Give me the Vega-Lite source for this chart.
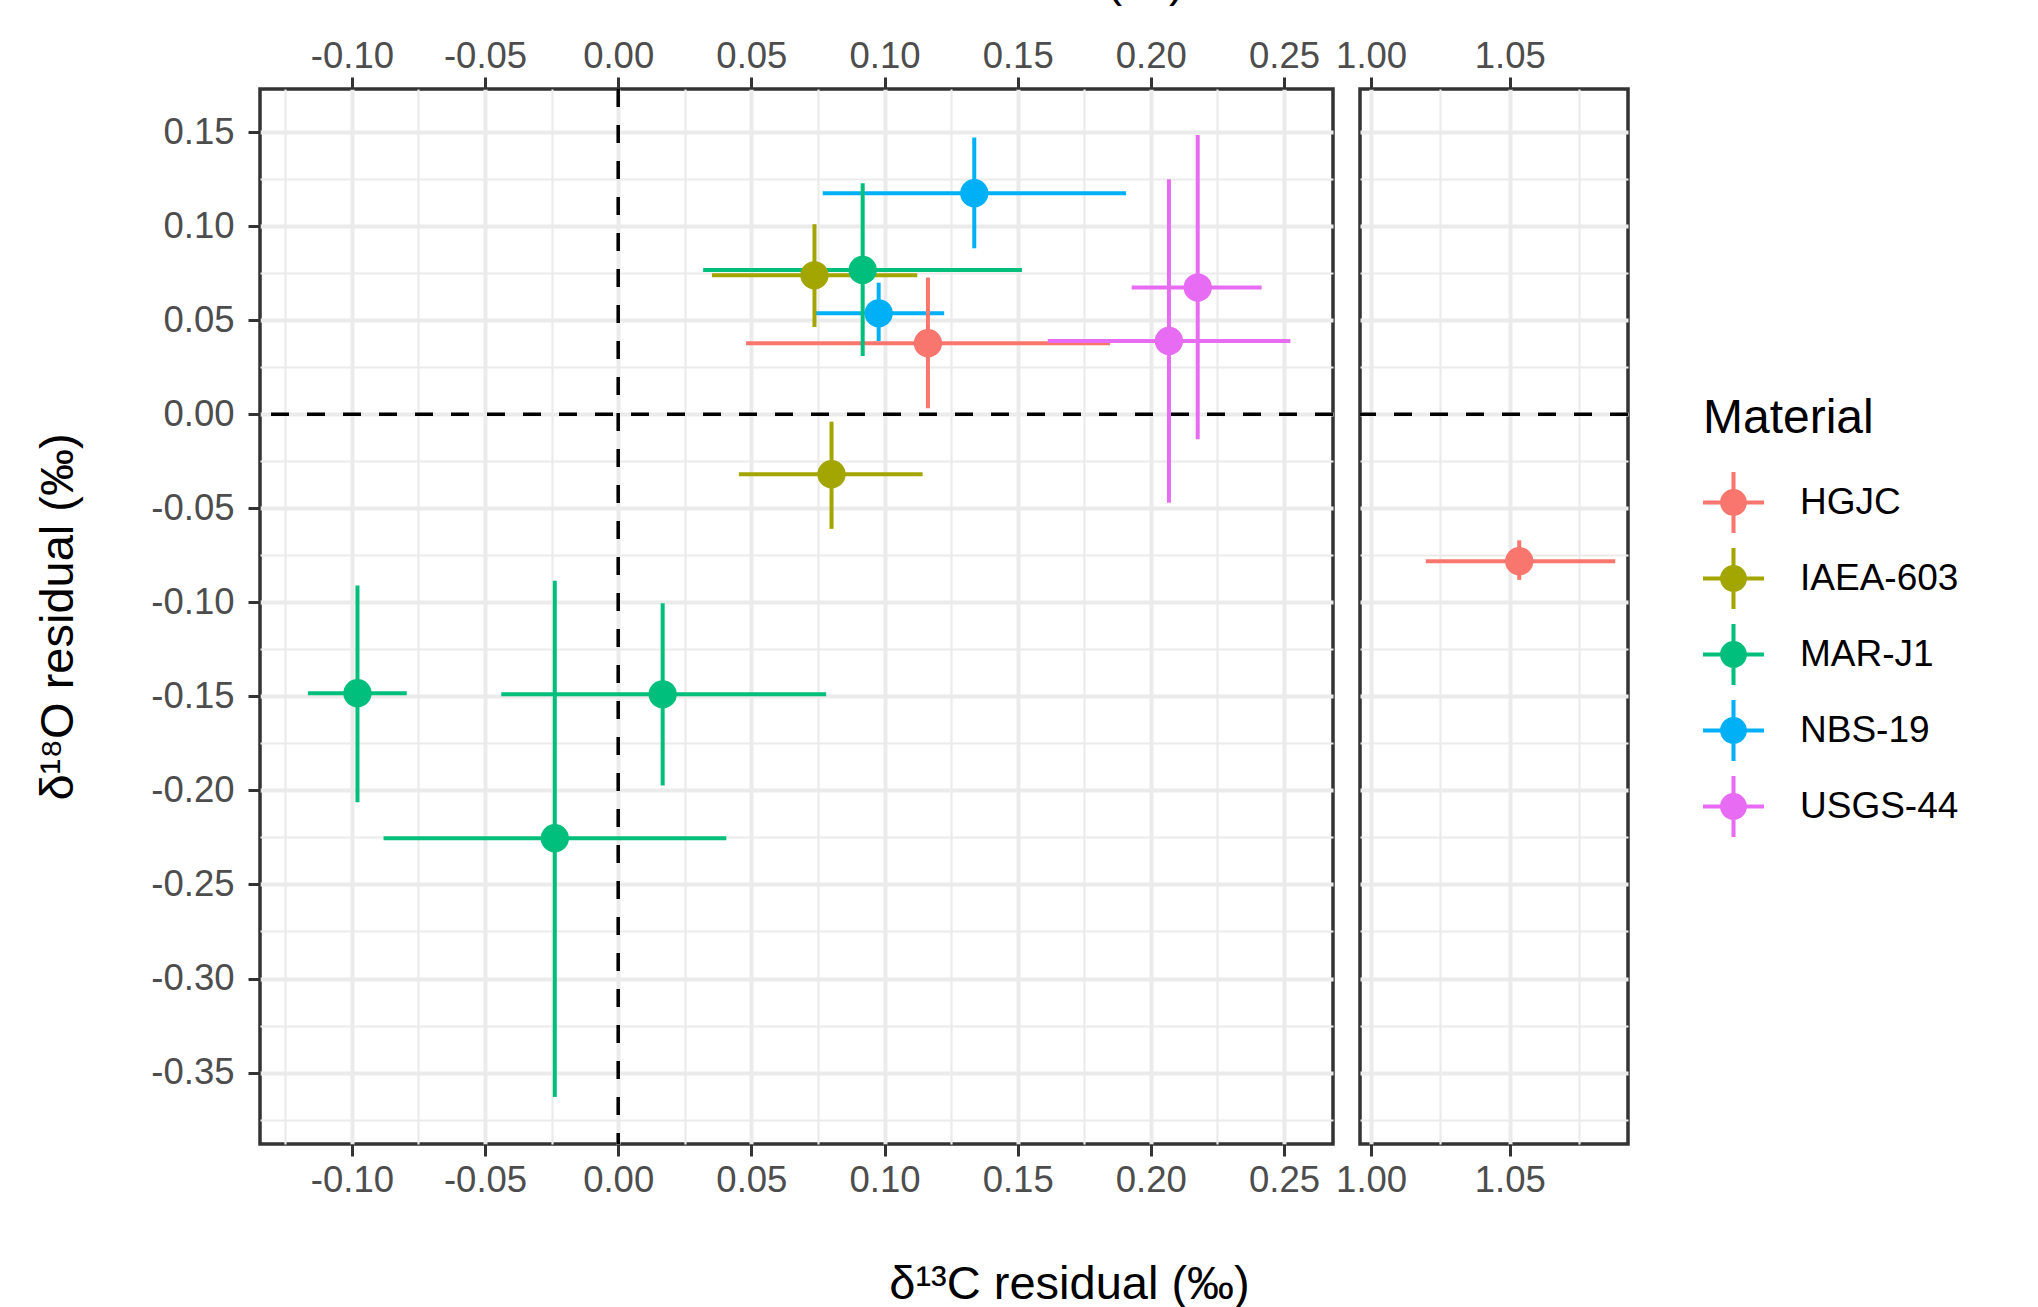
{
  "$schema": "https://vega.github.io/schema/vega-lite/v6.json",
  "background": "white",
  "padding": {"left": 32, "top": -45, "right": 60, "bottom": 0},
  "bounds": "flush",
  "spacing": 27,
  "datasets": {
    "resid": [
      {"material": "HGJC", "x": 0.1163, "y": 0.0378, "xmin": 0.048, "xmax": 0.1847, "ymin": 0.0032, "ymax": 0.0727},
      {"material": "HGJC", "x": 1.0534, "y": -0.0781, "xmin": 1.0197, "xmax": 1.088, "ymin": -0.088, "ymax": -0.067},
      {"material": "IAEA-603", "x": 0.0737, "y": 0.0739, "xmin": 0.0352, "xmax": 0.1123, "ymin": 0.0464, "ymax": 0.1011},
      {"material": "IAEA-603", "x": 0.0801, "y": -0.0318, "xmin": 0.0453, "xmax": 0.1143, "ymin": -0.0609, "ymax": -0.0039},
      {"material": "MAR-J1", "x": 0.0918, "y": 0.0768, "xmin": 0.0319, "xmax": 0.1516, "ymin": 0.031, "ymax": 0.1229},
      {"material": "MAR-J1", "x": -0.0979, "y": -0.1483, "xmin": -0.1165, "xmax": -0.0794, "ymin": -0.2063, "ymax": -0.091},
      {"material": "MAR-J1", "x": 0.0167, "y": -0.1489, "xmin": -0.0439, "xmax": 0.0781, "ymin": -0.1973, "ymax": -0.1004},
      {"material": "MAR-J1", "x": -0.0238, "y": -0.2254, "xmin": -0.0881, "xmax": 0.0406, "ymin": -0.363, "ymax": -0.0885},
      {"material": "NBS-19", "x": 0.1337, "y": 0.1176, "xmin": 0.0768, "xmax": 0.1907, "ymin": 0.0883, "ymax": 0.1472},
      {"material": "NBS-19", "x": 0.0978, "y": 0.0537, "xmin": 0.0732, "xmax": 0.1224, "ymin": 0.039, "ymax": 0.07},
      {"material": "USGS-44", "x": 0.2068, "y": 0.039, "xmin": 0.1613, "xmax": 0.2524, "ymin": -0.047, "ymax": 0.125},
      {"material": "USGS-44", "x": 0.2176, "y": 0.0674, "xmin": 0.1928, "xmax": 0.2416, "ymin": -0.0133, "ymax": 0.1486}
    ],
    "zero": [{"v": 0}]
  },
  "resolve": {"scale": {"x": "independent", "y": "shared", "color": "shared", "stroke": "shared"}},
  "hconcat": [
    {
      "width": 1073,
      "height": 1055,
      "resolve": {"axis": {"x": "independent", "y": "independent"}},
      "layer": [
        {
          "data": {"name": "resid"},
          "transform": [{"filter": "datum.x < 0.5"}],
          "mark": {"type": "rule", "strokeWidth": 4},
          "encoding": {
            "x": {"field": "xmin", "type": "quantitative", "scale": {"domain": [-0.1345, 0.2684], "nice": false, "zero": false},
              "axis": {"orient": "bottom", "values": [-0.125, -0.075, -0.025, 0.025, 0.075, 0.125, 0.175, 0.225], "grid": true, "gridWidth": 2.2, "labels": false, "ticks": false, "domain": false, "title": null}},
            "x2": {"field": "xmax"},
            "y": {"field": "y", "type": "quantitative", "scale": {"domain": [-0.388, 0.173], "nice": false, "zero": false},
              "axis": {"orient": "left", "values": [0.125, 0.075, 0.025, -0.025, -0.075, -0.125, -0.175, -0.225, -0.275, -0.325, -0.375], "grid": true, "gridWidth": 2.2, "labels": false, "ticks": false, "domain": false, "title": null}},
            "stroke": {"field": "material", "type": "nominal", "scale": {"domain": ["USGS-44", "NBS-19", "MAR-J1", "IAEA-603", "HGJC"], "range": ["#E76BF3", "#00B0F6", "#00BF7D", "#A3A500", "#F8766D"]}, "legend": null}
          }
        },
        {
          "data": {"name": "resid"},
          "transform": [{"filter": "datum.x < 0.5"}],
          "mark": {"type": "rule", "strokeWidth": 4},
          "encoding": {
            "x": {"field": "x", "type": "quantitative", "scale": {"domain": [-0.1345, 0.2684], "nice": false, "zero": false},
              "axis": {"orient": "top", "values": [-0.1, -0.05, 0, 0.05, 0.1, 0.15, 0.2, 0.25], "grid": false, "labelExpr": "replace(format(datum.value, '.2f'), '\u2212', '-')", "labelPadding": 2, "title": "δ¹³C residual (‰)", "titleX": 744, "titleY": -94, "titleAlign": "center", "titleBaseline": "alphabetic"}},
            "y": {"field": "ymin", "type": "quantitative", "scale": {"domain": [-0.388, 0.173], "nice": false, "zero": false},
              "axis": {"orient": "left", "values": [0.15, 0.1, 0.05, 0, -0.05, -0.1, -0.15, -0.2, -0.25, -0.3, -0.35], "grid": true, "gridWidth": 4, "labelExpr": "replace(format(datum.value, '.2f'), '\u2212', '-')", "labelPadding": 14, "title": "δ¹⁸O residual (‰)", "titleX": -188, "titleY": 527.5, "titleAngle": 270, "titleAlign": "center", "titleBaseline": "alphabetic"}},
            "y2": {"field": "ymax"},
            "stroke": {"field": "material", "type": "nominal", "scale": {"domain": ["USGS-44", "NBS-19", "MAR-J1", "IAEA-603", "HGJC"], "range": ["#E76BF3", "#00B0F6", "#00BF7D", "#A3A500", "#F8766D"]}, "legend": null}
          }
        },
        {
          "data": {"name": "resid"},
          "transform": [{"filter": "datum.x < 0.5"}],
          "mark": {"type": "point", "filled": true, "opacity": 1, "size": 800, "shape": "circle"},
          "encoding": {
            "x": {"field": "x", "type": "quantitative", "scale": {"domain": [-0.1345, 0.2684], "nice": false, "zero": false},
              "axis": {"orient": "bottom", "values": [-0.1, -0.05, 0, 0.05, 0.1, 0.15, 0.2, 0.25], "grid": true, "gridWidth": 4, "labelExpr": "replace(format(datum.value, '.2f'), '\u2212', '-')", "labelPadding": 6, "title": "δ¹³C residual (‰)", "titleX": 809, "titleY": 154, "titleAlign": "center", "titleBaseline": "alphabetic"}},
            "y": {"field": "y", "type": "quantitative", "scale": {"domain": [-0.388, 0.173], "nice": false, "zero": false}, "axis": null},
            "color": {"field": "material", "type": "nominal", "scale": {"domain": ["HGJC", "IAEA-603", "MAR-J1", "NBS-19", "USGS-44"], "range": ["#F8766D", "#A3A500", "#00BF7D", "#00B0F6", "#E76BF3"]}, "legend": {"title": "Material", "orient": "none", "legendX": 1443, "legendY": 306}}
          }
        },
        {
          "data": {"name": "zero"},
          "mark": {"type": "rule", "color": "black", "strokeWidth": 3.5, "strokeDash": [18, 18]},
          "encoding": {"x": {"field": "v", "type": "quantitative", "scale": {"domain": [-0.1345, 0.2684], "nice": false, "zero": false}, "axis": null}}
        },
        {
          "data": {"name": "zero"},
          "mark": {"type": "rule", "color": "black", "strokeWidth": 3.5, "strokeDash": [18, 18]},
          "encoding": {"y": {"field": "v", "type": "quantitative", "scale": {"domain": [-0.388, 0.173], "nice": false, "zero": false}, "axis": null}}
        }
      ]
    },
    {
      "width": 268,
      "height": 1055,
      "resolve": {"axis": {"x": "independent", "y": "independent"}},
      "layer": [
        {
          "data": {"name": "resid"},
          "transform": [{"filter": "datum.x > 0.5"}],
          "mark": {"type": "rule", "strokeWidth": 4},
          "encoding": {
            "x": {"field": "xmin", "type": "quantitative", "scale": {"domain": [0.996, 1.0926], "nice": false, "zero": false},
              "axis": {"orient": "bottom", "values": [1.025, 1.075], "grid": true, "gridWidth": 2.2, "labels": false, "ticks": false, "domain": false, "title": null}},
            "x2": {"field": "xmax"},
            "y": {"field": "y", "type": "quantitative", "scale": {"domain": [-0.388, 0.173], "nice": false, "zero": false},
              "axis": {"orient": "left", "values": [0.125, 0.075, 0.025, -0.025, -0.075, -0.125, -0.175, -0.225, -0.275, -0.325, -0.375], "grid": true, "gridWidth": 2.2, "labels": false, "ticks": false, "domain": false, "title": null}},
            "stroke": {"field": "material", "type": "nominal", "scale": {"domain": ["USGS-44", "NBS-19", "MAR-J1", "IAEA-603", "HGJC"], "range": ["#E76BF3", "#00B0F6", "#00BF7D", "#A3A500", "#F8766D"]}, "legend": null}
          }
        },
        {
          "data": {"name": "resid"},
          "transform": [{"filter": "datum.x > 0.5"}],
          "mark": {"type": "rule", "strokeWidth": 4},
          "encoding": {
            "x": {"field": "x", "type": "quantitative", "scale": {"domain": [0.996, 1.0926], "nice": false, "zero": false},
              "axis": {"orient": "top", "values": [1.0, 1.05], "grid": false, "labelExpr": "format(datum.value, '.2f')", "labelPadding": 2, "title": null}},
            "y": {"field": "ymin", "type": "quantitative", "scale": {"domain": [-0.388, 0.173], "nice": false, "zero": false},
              "axis": {"orient": "left", "values": [0.15, 0.1, 0.05, 0, -0.05, -0.1, -0.15, -0.2, -0.25, -0.3, -0.35], "grid": true, "gridWidth": 4, "labels": false, "ticks": false, "domain": false, "title": null}},
            "y2": {"field": "ymax"},
            "stroke": {"field": "material", "type": "nominal", "scale": {"domain": ["USGS-44", "NBS-19", "MAR-J1", "IAEA-603", "HGJC"], "range": ["#E76BF3", "#00B0F6", "#00BF7D", "#A3A500", "#F8766D"]}, "legend": null}
          }
        },
        {
          "data": {"name": "resid"},
          "transform": [{"filter": "datum.x > 0.5"}],
          "mark": {"type": "point", "filled": true, "opacity": 1, "size": 800, "shape": "circle"},
          "encoding": {
            "x": {"field": "x", "type": "quantitative", "scale": {"domain": [0.996, 1.0926], "nice": false, "zero": false},
              "axis": {"orient": "bottom", "values": [1.0, 1.05], "grid": true, "gridWidth": 4, "labelExpr": "format(datum.value, '.2f')", "labelPadding": 6, "title": null}},
            "y": {"field": "y", "type": "quantitative", "scale": {"domain": [-0.388, 0.173], "nice": false, "zero": false}, "axis": null},
            "color": {"field": "material", "type": "nominal", "scale": {"domain": ["HGJC", "IAEA-603", "MAR-J1", "NBS-19", "USGS-44"], "range": ["#F8766D", "#A3A500", "#00BF7D", "#00B0F6", "#E76BF3"]}, "legend": {"title": "Material", "orient": "none", "legendX": 1443, "legendY": 306}}
          }
        },
        {
          "data": {"name": "zero"},
          "mark": {"type": "rule", "color": "black", "strokeWidth": 3.5, "strokeDash": [18, 18]},
          "encoding": {"y": {"field": "v", "type": "quantitative", "scale": {"domain": [-0.388, 0.173], "nice": false, "zero": false}, "axis": null}}
        }
      ]
    }
  ],
  "config": {
    "font": "Liberation Sans",
    "view": {"stroke": "#333333", "strokeWidth": 3.5},
    "axis": {
      "labelFont": "Liberation Sans",
      "labelFontSize": 36.5,
      "labelColor": "#4D4D4D",
      "labelOverlap": false,
      "labelFlush": false,
      "labelBound": false,
      "tickColor": "#333333",
      "tickWidth": 3,
      "tickSize": 12,
      "domain": false,
      "gridColor": "#EBEBEB",
      "titleFont": "Liberation Sans",
      "titleFontSize": 47,
      "titleFontWeight": "normal",
      "titleColor": "#000000"
    },
    "legend": {
      "titleFont": "Liberation Sans",
      "titleFontSize": 48,
      "titleFontWeight": "normal",
      "titleColor": "#000000",
      "titlePadding": 29,
      "labelFont": "Liberation Sans",
      "labelFontSize": 37,
      "labelColor": "#000000",
      "labelOffset": 36,
      "rowPadding": 15,
      "symbolSize": 3721,
      "symbolStrokeWidth": 0,
      "symbolOpacity": 1,
      "symbolType": "M -1 -0.066 L 1 -0.066 L 1 0.066 L -1 0.066 Z M -0.066 -1 L 0.066 -1 L 0.066 1 L -0.066 1 Z M 0.44 0 A 0.44 0.44 0 1 1 -0.44 0 A 0.44 0.44 0 1 1 0.44 0 Z"
    }
  }
}
